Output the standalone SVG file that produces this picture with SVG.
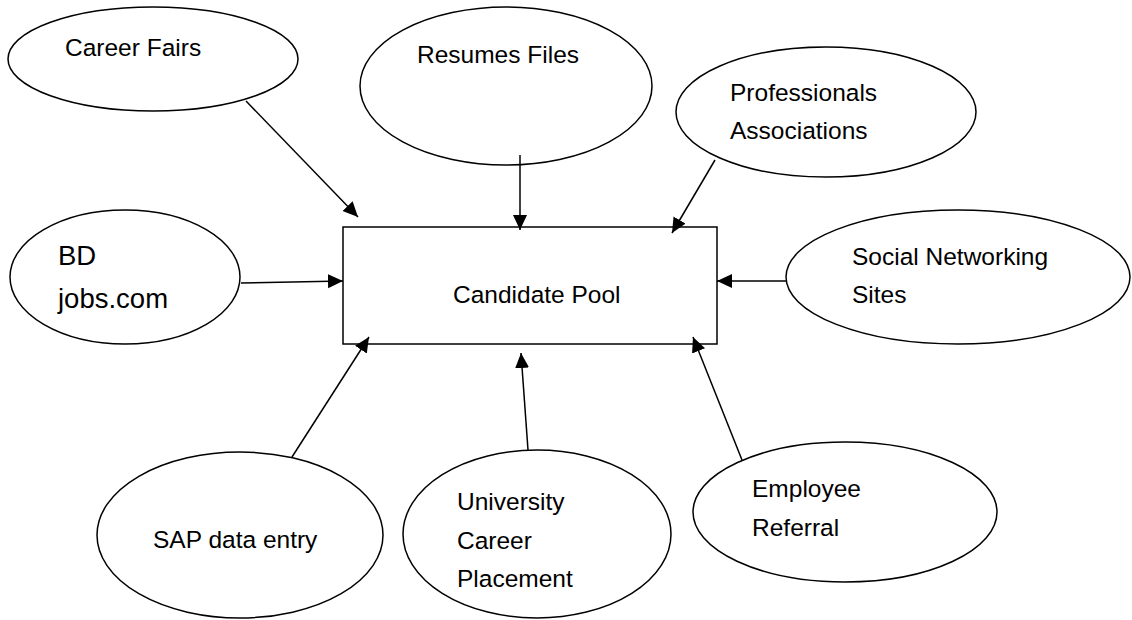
<svg xmlns="http://www.w3.org/2000/svg" width="1132" height="620" viewBox="0 0 1132 620">
<style>
  .shape { fill: #ffffff; stroke: #000000; stroke-width: 1.5; }
  .lbl { font-family: "Liberation Sans", Arial, sans-serif; font-size: 24.5px; fill: #000000; }
  .big { font-size: 27.5px; }
  .conn { stroke: #000000; stroke-width: 1.5; fill: none; marker-end: url(#arrow); }
</style>
<defs>
  <marker id="arrow" markerUnits="userSpaceOnUse" markerWidth="16" markerHeight="15" refX="15" refY="7" orient="auto">
    <path d="M0,0 L15,7 L0,14 Z" fill="#000000"/>
  </marker>
</defs>
<rect width="1132" height="620" fill="#ffffff"/>

<g id="career-fairs">
  <ellipse class="shape" cx="153" cy="59" rx="145" ry="52"/>
  <text class="lbl" x="65" y="56">Career Fairs</text>
</g>
<g id="resumes-files">
  <ellipse class="shape" cx="506" cy="86" rx="146" ry="79"/>
  <text class="lbl" x="417" y="63">Resumes Files</text>
</g>
<g id="professionals-associations">
  <ellipse class="shape" cx="826" cy="112" rx="150" ry="65"/>
  <text class="lbl" x="730" y="101">Professionals</text>
  <text class="lbl" x="730" y="139">Associations</text>
</g>
<g id="bd-jobs">
  <ellipse class="shape" cx="125" cy="277" rx="115" ry="67"/>
  <text class="lbl big" x="58" y="265">BD</text>
  <text class="lbl big" x="58" y="308">jobs.com</text>
</g>
<g id="social-networking">
  <ellipse class="shape" cx="958" cy="277" rx="172" ry="67"/>
  <text class="lbl" x="852" y="265">Social Networking</text>
  <text class="lbl" x="852" y="303">Sites</text>
</g>
<g id="candidate-pool">
  <rect class="shape" x="343" y="227" width="374" height="117"/>
  <text class="lbl" x="453" y="303">Candidate Pool</text>
</g>
<g id="sap-data-entry">
  <ellipse class="shape" cx="240" cy="535" rx="143" ry="83"/>
  <text class="lbl" x="153" y="548">SAP data entry</text>
</g>
<g id="university-career-placement">
  <ellipse class="shape" cx="537" cy="534" rx="134" ry="84"/>
  <text class="lbl" x="457" y="510">University</text>
  <text class="lbl" x="457" y="549">Career</text>
  <text class="lbl" x="457" y="587">Placement</text>
</g>
<g id="employee-referral">
  <ellipse class="shape" cx="845" cy="512" rx="152" ry="70"/>
  <text class="lbl" x="752" y="497">Employee</text>
  <text class="lbl" x="752" y="536">Referral</text>
</g>

<g id="connectors">
  <line class="conn" x1="246" y1="101" x2="358" y2="217"/>
  <line class="conn" x1="520" y1="155" x2="520" y2="230"/>
  <line class="conn" x1="715" y1="160" x2="672" y2="233"/>
  <line class="conn" x1="241" y1="283" x2="343" y2="281"/>
  <line class="conn" x1="786" y1="281" x2="717" y2="281"/>
  <line class="conn" x1="292" y1="457" x2="369" y2="337"/>
  <line class="conn" x1="528" y1="450" x2="521" y2="353"/>
  <line class="conn" x1="742" y1="460" x2="693" y2="337"/>
</g>
</svg>
